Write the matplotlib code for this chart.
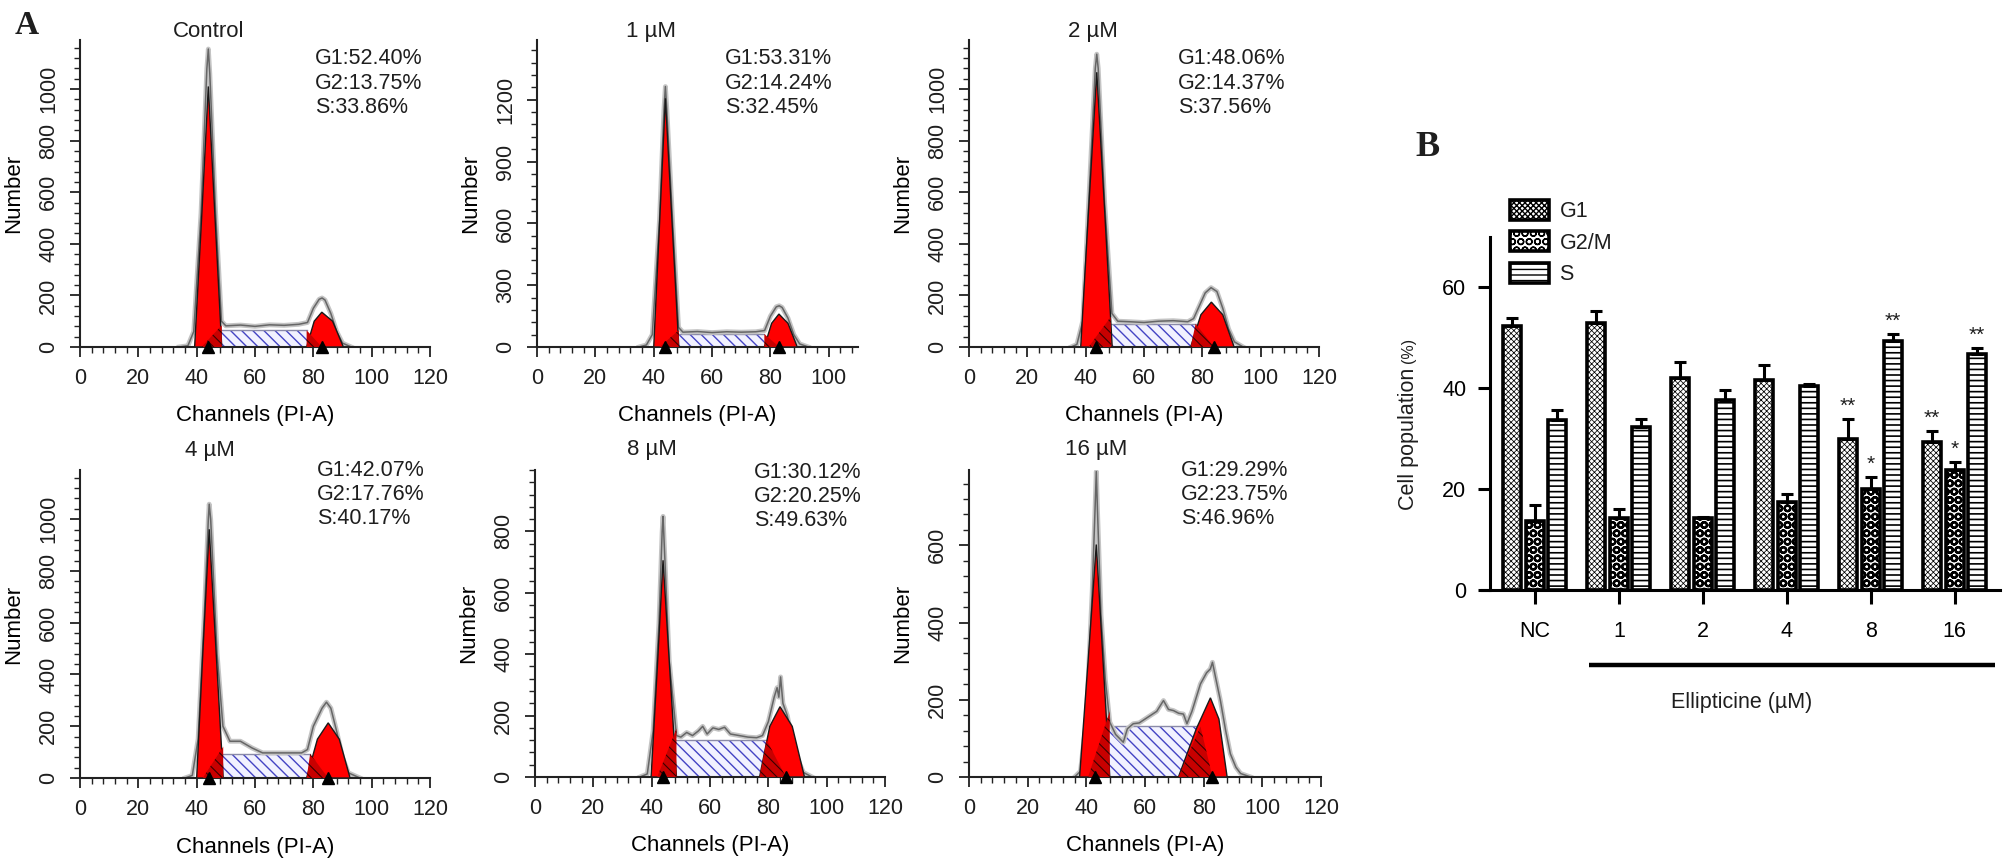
import numpy as np
import matplotlib
matplotlib.use("Agg")
import matplotlib.pyplot as plt
from matplotlib.ticker import MultipleLocator
from matplotlib.transforms import blended_transform_factory
from matplotlib.patches import Patch

plt.rcParams['font.family'] = ['Liberation Sans', 'DejaVu Sans']
plt.rcParams['hatch.linewidth'] = 1.0
plt.rcParams['text.color'] = '#1e1e1e'

W, H = 2008, 859

# ---------------- panel A : DNA histograms ----------------
titles = ['Control', '1 \u00b5M', '2 \u00b5M', '4 \u00b5M', '8 \u00b5M', '16 \u00b5M']
g1_pct = ['52.40', '53.31', '48.06', '42.07', '30.12', '29.29']
g2_pct = ['13.75', '14.24', '14.37', '17.76', '20.25', '23.75']
s_pct = ['33.86', '32.45', '37.56', '40.17', '49.63', '46.96']

y_max = [1190, 1490, 1190, 1190, 1000, 795]
y_step = [200, 300, 200, 200, 200, 200]
y_top_tick = [1000, 1200, 1000, 1000, 800, 600]
x_max = [120, 110, 120, 120, 120, 120]
x_top_tick = [120, 100, 120, 120, 120, 120]

# raw histogram outline (channel, count)
raw_x = [
    [34, 37, 39, 41.5, 43.5, 44, 44.5, 46.5, 48.5, 50, 55, 60, 65, 70, 75, 78, 80, 82, 83, 84, 86, 88, 90, 93],
    [35, 37.5, 39.5, 42, 43.5, 44, 44.5, 46.5, 48.5, 50, 55, 60, 65, 70, 75, 78, 80, 82, 83, 84, 86, 88, 90, 93],
    [35, 37, 39, 41, 43.3, 43.8, 44.3, 46.5, 49, 51, 55, 60, 65, 70, 75, 77, 79, 81, 83, 85, 87, 89, 91, 94],
    [36, 38.5, 40.5, 42.5, 44, 44.3, 44.8, 47, 49, 51.4, 55, 59, 62.6, 70, 76, 78, 80, 83, 84.5, 86, 88, 90, 92, 96],
    [36, 38.5, 40.5, 42.5, 43.6, 43.9, 44.3, 46, 48.5, 50, 52, 54, 56, 57.5, 59, 61, 63, 65, 67, 70, 73, 76, 78,
     80, 82, 83, 83.6, 84.2, 85, 86.5, 88, 90, 92, 95],
    [36, 38, 40, 42, 43.0, 43.4, 43.8, 45, 46.5, 48, 50, 52.6, 54, 56, 58, 60, 62, 64, 66.3, 68, 69.7, 71.5, 73.1,
     74.3, 76, 78.9, 81, 82.3, 83, 84, 85.7, 87.5, 89.1, 91, 92.6, 96],
]
raw_y = [
    [0, 5, 60, 520, 1080, 1155, 1060, 520, 100, 82, 85, 80, 86, 84, 88, 95, 150, 185, 190, 182, 130, 60, 15, 0],
    [0, 10, 60, 620, 1150, 1264, 1150, 600, 95, 72, 75, 70, 74, 72, 74, 80, 150, 195, 200, 192, 140, 60, 15, 0],
    [0, 10, 100, 550, 1080, 1135, 1080, 560, 130, 100, 98, 95, 100, 102, 98, 110, 160, 210, 230, 215, 150, 70, 20, 0],
    [0, 10, 150, 600, 1000, 1058, 1000, 480, 200, 142, 142, 116, 97, 97, 97, 110, 200, 270, 293, 270, 180, 80, 20, 0],
    [0, 10, 150, 500, 800, 849, 760, 380, 135, 130, 145, 135, 150, 165, 140, 160, 155, 162, 140, 135, 130, 128, 135,
     180, 260, 291, 260, 326, 240, 200, 130, 60, 15, 0],
    [0, 15, 150, 480, 700, 791, 690, 420, 250, 142, 110, 90, 125, 138, 140, 150, 160, 170, 198, 175, 172, 165, 163,
     138, 170, 241, 270, 280, 297, 260, 198, 120, 60, 25, 9, 0],
]

# fitted G1 / G2 peaks (red)
g1_x = [[39.3, 41.7, 44.0, 46.3, 48.6], [40.0, 42.0, 44.0, 46.3, 48.6], [38.3, 41.0, 43.8, 46.5, 49.1],
        [40.0, 42.1, 44.3, 46.7, 49.1], [39.8, 41.9, 43.9, 46.2, 48.5], [37.7, 40.6, 43.4, 45.7, 48.0]]
g1_y = [[0, 500, 1010, 500, 0], [0, 600, 1207, 600, 0], [0, 530, 1065, 530, 0],
        [0, 480, 961, 480, 0], [0, 350, 706, 350, 0], [0, 300, 602, 300, 0]]
g2_x = [[77.7, 80.3, 82.9, 86.6, 90.3], [77.9, 80.4, 82.9, 86.0, 89.2], [76.0, 79.5, 83.1, 87.0, 90.9],
        [77.7, 81.4, 85.1, 88.9, 92.6], [77.0, 80.5, 84.0, 88.2, 92.4], [71.4, 77.5, 82.3, 85.2, 88.0]]
g2_y = [[0, 100, 135, 100, 0], [0, 115, 160, 115, 0], [0, 125, 174, 125, 0],
        [0, 150, 213, 150, 0], [0, 165, 229, 165, 0], [0, 125, 205, 150, 0]]

# S phase plateau
s_lo = [48.6, 48.6, 48.6, 49.1, 48.5, 48.0]
s_hi = [77.7, 77.9, 77.7, 78.9, 79.4, 78.9]
s_h = [65, 63, 90, 93, 121, 131]

# peak channel markers
mark_g1 = [44.0, 44.0, 43.4, 44.3, 43.9, 42.9]
mark_g2 = [82.9, 83.0, 84.0, 85.1, 86.0, 83.0]

# layout in pixels (left, top, width, height)
boxes = [(80, 40, 350, 307), (537, 40, 321, 307), (969, 40, 350, 307),
         (80, 470, 350, 308), (535, 470, 350, 307), (969, 470, 352, 307)]
title_x = [44, 39, 42.5, 44.5, 40, 43.5]
title_off = [8, 8, 8, 20, 20, 20]
stats_x = [80.6, 64.4, 71.6, 81.2, 75.0, 72.3]
stats_off = [-19, -19, -19, 0, -2, 0]

# ---------------- panel B : bar chart ----------------
groups = ['NC', '1', '2', '4', '8', '16']
g1_mean = [52.4, 53.0, 42.1, 41.7, 29.9, 29.3]
g1_err = [1.5, 2.3, 3.1, 3.0, 4.0, 2.3]
g2_mean = [13.6, 14.2, 14.2, 17.5, 20.1, 23.8]
g2_err = [3.3, 1.9, 0.2, 1.6, 2.3, 1.6]
s_mean = [33.7, 32.3, 37.6, 40.5, 49.4, 46.7]
s_err = [1.9, 1.6, 2.0, 0.4, 1.3, 1.3]
g1_sig = ['', '', '', '', '**', '**']
g2_sig = ['', '', '', '', '*', '*']
s_sig = ['', '', '', '', '**', '**']


def px_axes(fig, left, top, w, h):
    return fig.add_axes([left / W, 1 - (top + h) / H, w / W, h / H])


def hatched(ax, xs, ys, hatch, fc, hc, hlw, z):
    with plt.rc_context({'hatch.linewidth': hlw}):
        p = ax.fill(xs, ys, facecolor=fc, edgecolor=hc, hatch=hatch, lw=0, zorder=z)[0]
    if hasattr(p, 'set_hatch_linewidth'):
        p.set_hatch_linewidth(hlw)
    return p


fig = plt.figure(figsize=(W / 100, H / 100), dpi=100)

for i in range(6):
    left, top, w, h = boxes[i]
    ax = px_axes(fig, left, top, w, h)
    tr = blended_transform_factory(ax.transData, ax.transAxes)

    # S phase
    hatched(ax, [s_lo[i], s_lo[i], s_hi[i], s_hi[i]], [0, s_h[i], s_h[i], 0],
            '\\\\\\', '#f2f2ff', '#4444c4', 1.0, 1)
    ax.plot([s_lo[i], s_hi[i]], [s_h[i], s_h[i]], color='#8a8aa8', lw=1, zorder=1.5)

    # raw data outline
    ax.plot(raw_x[i], raw_y[i], color='#c4c4c4', lw=3.5, zorder=2)
    ax.plot(raw_x[i], raw_y[i], color='#666666', lw=1.1, zorder=2.2)

    # red peaks
    ax.fill(g1_x[i], g1_y[i], facecolor='#ff0000', edgecolor='#1a1a1a', lw=1.0, zorder=3)
    ax.fill(g2_x[i], g2_y[i], facecolor='#ff0000', edgecolor='#1a1a1a', lw=1.0, zorder=3)

    # S phase under the peaks
    hatched(ax, [g1_x[i][1], s_lo[i], s_lo[i]], [0, s_h[i] * 1.3, 0],
            '\\\\\\', '#c80000', '#3a0000', 0.8, 4)
    hatched(ax, [g2_x[i][0], s_hi[i], mark_g2[i]], [0, s_h[i], 0],
            '\\\\\\', '#c80000', '#3a0000', 0.8, 4)

    ax.plot([mark_g1[i], mark_g2[i]], [0, 0], '^', color='black', ms=8.5,
            clip_on=False, zorder=6)

    ax.set_xlim(0, x_max[i])
    ax.set_ylim(0, y_max[i])
    ax.set_xticks(np.arange(0, x_top_tick[i] + 1, 20))
    ax.set_yticks(np.arange(0, y_top_tick[i] + 1, y_step[i]))
    ax.xaxis.set_minor_locator(MultipleLocator(4))
    ax.yaxis.set_minor_locator(MultipleLocator(y_step[i] / 5))
    ax.tick_params(which='major', length=7, width=1.3, color='#222222',
                   labelsize=15.5, labelcolor='#1e1e1e')
    ax.tick_params(axis='x', which='major', pad=8)
    ax.tick_params(axis='y', which='major', pad=8)
    ax.tick_params(which='minor', length=4, width=1.0, color='#222222')
    plt.setp(ax.get_yticklabels(), rotation=90, va='center')
    for sp in ['top', 'right']:
        ax.spines[sp].set_visible(False)
    for sp in ['left', 'bottom']:
        ax.spines[sp].set_linewidth(1.5)
        ax.spines[sp].set_color('#222222')

    ax.set_xlabel('Channels (PI-A)', fontsize=16, labelpad=12)
    ax.set_ylabel('Number', fontsize=16, labelpad=10)

    ax.text(title_x[i], 1 + title_off[i] / h, titles[i], transform=tr,
            ha='center', va='center', fontsize=16)
    lines = ['G1:' + g1_pct[i] + '%', 'G2:' + g2_pct[i] + '%', 'S:' + s_pct[i] + '%']
    for k, txt in enumerate(lines):
        ax.text(stats_x[i], 1 + (stats_off[i] - 24.5 * k) / h, txt, transform=tr,
                ha='left', va='center', fontsize=15.5)

fig.text(27 / W, 1 - 25 / H, 'A', fontsize=24, fontweight='bold',
         family='Liberation Serif', ha='center', va='center')
fig.text(1428 / W, 1 - 147 / H, 'B', fontsize=26, fontweight='bold',
         family='Liberation Serif', ha='center', va='center')

# ---------------- panel B ----------------
axb = px_axes(fig, 1482, 237, 518, 353)
xpos = np.arange(len(groups))
off = 0.268
bw = 0.214
series = [(g1_mean, g1_err, g1_sig, 'xxxxxx', -off, 'G1', '#ffffff', 0.55),
          (g2_mean, g2_err, g2_sig, 'OO', 0.0, 'G2/M', '#ffffff', 1.6),
          (s_mean, s_err, s_sig, '---', off, 'S', '#ffffff', 1.2)]
handles = []
for mean, err, sig, hatch, dx, name, fc, hlw in series:
    with plt.rc_context({'hatch.linewidth': hlw}):
        bars = axb.bar(xpos + dx, mean, width=bw, facecolor=fc, edgecolor='black',
                       hatch=hatch, lw=2.6, zorder=2)
        hp = Patch(facecolor=fc, edgecolor='black', hatch=hatch, lw=2.6, label=name)
    for b in list(bars) + [hp]:
        if hasattr(b, 'set_hatch_linewidth'):
            b.set_hatch_linewidth(hlw)
    axb.errorbar(xpos + dx, mean, yerr=[np.zeros(len(err)), err], fmt='none',
                 ecolor='black', elinewidth=2.2, capsize=4.5, capthick=2.2, zorder=3)
    for k in range(len(groups)):
        if sig[k]:
            axb.text(xpos[k] + dx, mean[k] + err[k] + 0.6, sig[k], ha='center',
                     va='bottom', fontsize=15)
    handles.append(hp)

axb.set_xlim(-0.63, 5.54)
axb.set_ylim(0, 70)
axb.spines['left'].set_position(('data', -0.536))
axb.spines['left'].set_bounds(0, 70)
for sp in ['top', 'right']:
    axb.spines[sp].set_visible(False)
for sp in ['left', 'bottom']:
    axb.spines[sp].set_linewidth(2.2)
axb.set_yticks([0, 20, 40, 60])
axb.set_xticks(xpos)
axb.set_xticklabels(groups)
axb.tick_params(axis='y', length=9, width=2.2, labelsize=15.5, pad=8)
axb.tick_params(axis='x', length=10, width=2.2, labelsize=15.5, pad=12)

trb = blended_transform_factory(axb.transData, axb.transAxes)
axb.text(-1.5, 0.428, 'Cell population', transform=trb,
         rotation=90, ha='center', va='center', fontsize=15.5)
axb.text(-1.5, 0.68, '(%)', transform=trb,
         rotation=90, ha='center', va='center', fontsize=11.5)

axb.plot([0.65, 5.48], [-0.212, -0.212], transform=trb, color='black', lw=3.2,
         clip_on=False, solid_capstyle='butt')
axb.text(2.46, -0.32, 'Ellipticine (\u00b5M)', transform=trb, ha='center',
         va='center', fontsize=15.5)

axb.legend(handles=handles, loc='upper left', bbox_to_anchor=(1510 / W, 1 - 200 / H),
           bbox_transform=fig.transFigure, frameon=False, fontsize=15.5,
           handlelength=1.8, handleheight=1.05, labelspacing=0.42,
           handletextpad=0.5, borderpad=0, borderaxespad=0)

fig.savefig('out.png', dpi=100)
